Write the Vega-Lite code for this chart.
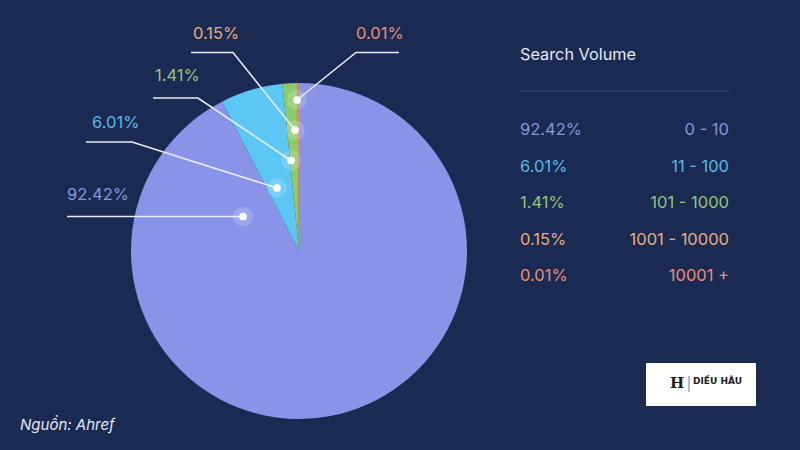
{
  "$schema": "https://vega.github.io/schema/vega-lite/v6.json",
  "width": 800,
  "height": 450,
  "autosize": {"type": "fit", "contains": "padding"},
  "padding": 0,
  "background": "#1b2a52",
  "config": {"view": {"stroke": null}, "font": "Inter"},
  "datasets": {
    "slices": [
      {"range": "0 - 10", "share": 92.42, "pct": "92.42%", "idx": 1},
      {"range": "11 - 100", "share": 6.01, "pct": "6.01%", "idx": 2},
      {"range": "101 - 1000", "share": 1.41, "pct": "1.41%", "idx": 3},
      {"range": "1001 - 10000", "share": 0.15, "pct": "0.15%", "idx": 4},
      {"range": "10001 +", "share": 0.01, "pct": "0.01%", "idx": 5}
    ],
    "leaders": [
      {"range": "0 - 10", "seq": 1, "px": 67, "py": 216.5},
      {"range": "0 - 10", "seq": 2, "px": 243, "py": 216.5},
      {"range": "11 - 100", "seq": 1, "px": 86, "py": 142},
      {"range": "11 - 100", "seq": 2, "px": 132, "py": 142},
      {"range": "11 - 100", "seq": 3, "px": 277, "py": 188},
      {"range": "101 - 1000", "seq": 1, "px": 153, "py": 98},
      {"range": "101 - 1000", "seq": 2, "px": 198, "py": 98},
      {"range": "101 - 1000", "seq": 3, "px": 291, "py": 160.5},
      {"range": "1001 - 10000", "seq": 1, "px": 191, "py": 52.5},
      {"range": "1001 - 10000", "seq": 2, "px": 233, "py": 52.5},
      {"range": "1001 - 10000", "seq": 3, "px": 295, "py": 130},
      {"range": "10001 +", "seq": 1, "px": 399, "py": 52.5},
      {"range": "10001 +", "seq": 2, "px": 356, "py": 52.5},
      {"range": "10001 +", "seq": 3, "px": 297, "py": 100}
    ],
    "labels": [
      {"range": "0 - 10", "pct": "92.42%", "px": 67, "py": 195},
      {"range": "11 - 100", "pct": "6.01%", "px": 92, "py": 123},
      {"range": "101 - 1000", "pct": "1.41%", "px": 155, "py": 76},
      {"range": "1001 - 10000", "pct": "0.15%", "px": 193, "py": 34},
      {"range": "10001 +", "pct": "0.01%", "px": 356, "py": 34}
    ]
  },
  "resolve": {"scale": {"y": "independent", "color": "independent"}},
  "layer": [
    {
      "data": {"name": "slices"},
      "transform": [{"stack": "share", "groupby": [], "sort": [{"field": "idx"}], "as": ["t0", "t1"]}],
      "mark": {"type": "arc", "outerRadius": 168},
      "encoding": {
        "x": {"datum": 299, "type": "quantitative", "scale": {"domain": [0, 800], "nice": false, "zero": false}, "axis": null},
        "y": {"datum": 251, "type": "quantitative", "scale": {"domain": [0, 450], "nice": false, "zero": false, "reverse": true}, "axis": null},
        "theta": {"field": "t0", "type": "quantitative", "stack": null, "scale": {"domain": [0, 100], "range": [0, 6.283185307]}},
        "theta2": {"field": "t1"},
        "color": {"field": "range", "type": "nominal", "legend": null,
          "scale": {"domain": ["0 - 10", "11 - 100", "101 - 1000", "1001 - 10000", "10001 +"],
                    "range": ["#8994e8", "#5cc6f5", "#8ecb6e", "#f4a24e", "#f06a4a"]}}
      }
    },
    {
      "data": {"name": "leaders"},
      "mark": {"type": "line", "color": "#e8ecf5", "strokeWidth": 1.6},
      "encoding": {
        "x": {"field": "px", "type": "quantitative", "axis": null},
        "y": {"field": "py", "type": "quantitative", "scale": {"domain": [0, 450], "nice": false, "zero": false, "reverse": true}, "axis": null},
        "detail": {"field": "range"},
        "order": {"field": "seq"}
      }
    },
    {
      "data": {"name": "leaders"},
      "transform": [{"filter": "datum.seq == 2 && datum.range == '0 - 10' || datum.seq == 3"}],
      "mark": {"type": "point", "filled": true, "color": "#ffffff", "opacity": 0.18, "size": 380},
      "encoding": {
        "x": {"field": "px", "type": "quantitative", "axis": null},
        "y": {"field": "py", "type": "quantitative", "scale": {"domain": [0, 450], "nice": false, "zero": false, "reverse": true}, "axis": null}
      }
    },
    {
      "data": {"name": "leaders"},
      "transform": [{"filter": "datum.seq == 2 && datum.range == '0 - 10' || datum.seq == 3"}],
      "mark": {"type": "point", "filled": true, "color": "#ffffff", "opacity": 1, "size": 60},
      "encoding": {
        "x": {"field": "px", "type": "quantitative", "axis": null},
        "y": {"field": "py", "type": "quantitative", "scale": {"domain": [0, 450], "nice": false, "zero": false, "reverse": true}, "axis": null}
      }
    },
    {
      "data": {"name": "labels"},
      "mark": {"type": "text", "align": "left", "baseline": "middle", "fontSize": 16.5},
      "encoding": {
        "x": {"field": "px", "type": "quantitative", "axis": null},
        "y": {"field": "py", "type": "quantitative", "scale": {"domain": [0, 450], "nice": false, "zero": false, "reverse": true}, "axis": null},
        "text": {"field": "pct"},
        "color": {"field": "range", "type": "nominal", "legend": null,
          "scale": {"domain": ["0 - 10", "11 - 100", "101 - 1000", "1001 - 10000", "10001 +"],
                    "range": ["#8a93dc", "#5cb8e8", "#96c47c", "#e8ae7a", "#e8907a"]}}
      }
    },
    {
      "data": {"values": [{"t": "Search Volume"}]},
      "mark": {"type": "text", "align": "left", "baseline": "middle", "fontSize": 16.3, "color": "#e6e9f2"},
      "encoding": {
        "x": {"datum": 520, "type": "quantitative"},
        "y": {"datum": 55, "type": "quantitative", "scale": {"domain": [0, 450], "nice": false, "zero": false, "reverse": true}, "axis": null},
        "text": {"field": "t"}
      }
    },
    {
      "data": {"values": [{"t": "rule"}]},
      "mark": {"type": "rule", "color": "#3f4d78", "strokeWidth": 1},
      "encoding": {
        "x": {"datum": 520, "type": "quantitative"},
        "x2": {"datum": 729},
        "y": {"datum": 91, "type": "quantitative", "scale": {"domain": [0, 450], "nice": false, "zero": false, "reverse": true}, "axis": null}
      }
    },
    {
      "data": {"name": "slices"},
      "mark": {"type": "text", "align": "left", "baseline": "middle", "fontSize": 16.5},
      "encoding": {
        "x": {"datum": 520, "type": "quantitative"},
        "y": {"field": "idx", "type": "quantitative", "scale": {"domain": [1, 5], "range": [130, 276], "nice": false, "zero": false}, "axis": null},
        "text": {"field": "pct"},
        "color": {"field": "range", "type": "nominal", "legend": null,
          "scale": {"domain": ["0 - 10", "11 - 100", "101 - 1000", "1001 - 10000", "10001 +"],
                    "range": ["#8a93dc", "#5cb8e8", "#96c47c", "#e8ae7a", "#e8907a"]}}
      }
    },
    {
      "data": {"name": "slices"},
      "mark": {"type": "text", "align": "right", "baseline": "middle", "fontSize": 16.5},
      "encoding": {
        "x": {"datum": 729, "type": "quantitative"},
        "y": {"field": "idx", "type": "quantitative", "scale": {"domain": [1, 5], "range": [130, 276], "nice": false, "zero": false}, "axis": null},
        "text": {"field": "range"},
        "color": {"field": "range", "type": "nominal", "legend": null,
          "scale": {"domain": ["0 - 10", "11 - 100", "101 - 1000", "1001 - 10000", "10001 +"],
                    "range": ["#8a93dc", "#5cb8e8", "#96c47c", "#e8ae7a", "#e8907a"]}}
      }
    },
    {
      "data": {"values": [{"t": "Nguồn: Ahref"}]},
      "mark": {"type": "text", "align": "left", "baseline": "middle", "fontSize": 15, "fontStyle": "italic", "color": "#e6e9f2"},
      "encoding": {
        "x": {"datum": 20, "type": "quantitative"},
        "y": {"datum": 425, "type": "quantitative", "scale": {"domain": [0, 450], "nice": false, "zero": false, "reverse": true}, "axis": null},
        "text": {"field": "t"}
      }
    },
    {
      "data": {"values": [{"t": "logo"}]},
      "mark": {"type": "rect", "color": "#ffffff"},
      "encoding": {
        "x": {"datum": 646, "type": "quantitative"},
        "x2": {"datum": 756},
        "y": {"datum": 363, "type": "quantitative", "scale": {"domain": [0, 450], "nice": false, "zero": false, "reverse": true}, "axis": null},
        "y2": {"datum": 406}
      }
    },
    {
      "data": {"values": [{"t": "DIỀU HÂU"}]},
      "mark": {"type": "text", "align": "left", "baseline": "middle", "fontSize": 9, "fontWeight": "bold", "color": "#1b1b1b", "font": "DejaVu Sans"},
      "encoding": {
        "x": {"datum": 693, "type": "quantitative"},
        "y": {"datum": 381, "type": "quantitative", "scale": {"domain": [0, 450], "nice": false, "zero": false, "reverse": true}, "axis": null},
        "text": {"field": "t"}
      }
    },
    {
      "data": {"values": [{"t": "H"}]},
      "mark": {"type": "text", "align": "center", "baseline": "middle", "fontSize": 15, "fontWeight": "bold", "color": "#1b1b1b", "font": "DejaVu Serif"},
      "encoding": {
        "x": {"datum": 677, "type": "quantitative"},
        "y": {"datum": 383, "type": "quantitative", "scale": {"domain": [0, 450], "nice": false, "zero": false, "reverse": true}, "axis": null},
        "text": {"field": "t"}
      }
    },
    {
      "data": {"values": [{"t": "div"}]},
      "mark": {"type": "rule", "color": "#555555", "strokeWidth": 0.8},
      "encoding": {
        "x": {"datum": 689, "type": "quantitative"},
        "y": {"datum": 376, "type": "quantitative", "scale": {"domain": [0, 450], "nice": false, "zero": false, "reverse": true}, "axis": null},
        "y2": {"datum": 392}
      }
    }
  ]
}
